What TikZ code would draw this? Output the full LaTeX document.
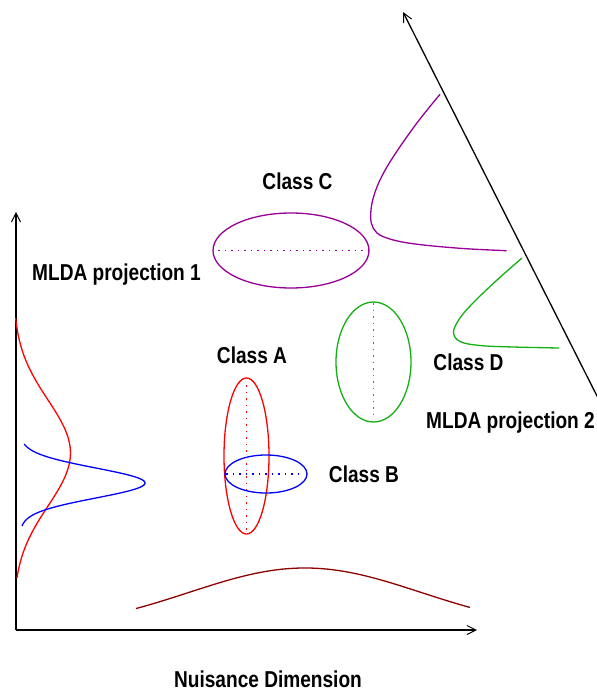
\documentclass[tikz,border=0pt]{standalone}
\usepackage{fontspec}
\usepackage{xcolor}
\usepackage{tikz}
\usetikzlibrary{arrows.meta}
\newfontfamily\lblfont{Liberation Sans}[FakeStretch=0.83]
\definecolor{classApurple}{RGB}{150,0,150}
\definecolor{classDgreen}{RGB}{20,175,20}
\definecolor{nuisbrown}{RGB}{140,0,0}

\begin{document}
\begin{tikzpicture}[x=1pt,y=-1pt,
  axis/.style={line width=1.3pt,black,-{Straight Barb[length=9pt,width=9pt,line width=1pt]}},
  curve/.style={line width=1.3pt},
  meanline/.style={line width=1.5pt,dash pattern=on 1.5pt off 5pt},
  lbl/.style={font=\lblfont\bfseries\fontsize{23}{26}\selectfont,inner sep=0pt}
]
\useasboundingbox (0,0) rectangle (596,692);

% Axes
\coordinate (origin) at (16,630);
\coordinate (ytip) at (16,212);
\coordinate (xtip) at (477,630);
\coordinate (dstart) at (598,398);
\coordinate (dtip) at (403,12);
\draw[axis] (origin) -- (ytip);
\draw[axis] (origin) -- (xtip);
\draw[axis] (dstart) -- (dtip);

% Class ellipses
\draw[curve,red] (246.5,456) ellipse[x radius=22.5pt,y radius=78pt];
\draw[meanline,red] (246.5,385) -- (246.5,533);
\draw[curve,blue] (266,474) ellipse[x radius=41pt,y radius=19pt];
\draw[meanline,blue] (226,474) -- (299,474);
\draw[curve,classApurple] (291,250.5) ellipse[x radius=78pt,y radius=37.5pt];
\draw[meanline,classApurple] (218,250.5) -- (368,250.5);
\draw[curve,classDgreen] (373.5,362) ellipse[x radius=37.5pt,y radius=60pt];
\draw[meanline,classDgreen] (373.5,303) -- (373.5,418);

% Projections on axis 1 and nuisance axis
\draw[curve,red] plot[domain=318:578,samples=90,variable=\y]
  ({16+57*(exp(-((\y-453)/53)^2/2)-0.045)},\y);
\draw[curve,blue] plot[domain=444:526,samples=90,variable=\y]
  ({20+125*exp(-((\y-483)/15)^2/2)},\y);
\draw[curve,nuisbrown] plot[domain=136:470,samples=90,variable=\x]
  (\x,{630-62*exp(-((\x-305)/116)^2/2)});

% Projections on axis 2
\draw[curve,classApurple] plot[smooth,tension=0.6] coordinates {
  (440,94.3) (416.7,123.3) (393.3,156.7) (380,180) (372.7,200) (370.7,216.7)
  (373.3,228.3) (383.3,236.7) (410,243.3) (460,248.3) (506.7,250.7)};
\draw[curve,classDgreen] plot[smooth,tension=0.6] coordinates {
  (522,258) (497,280) (473,303) (460,318) (453.5,332) (460,341.5)
  (480,345.5) (513,347) (559,348)};

% Labels
\node[lbl,anchor=base] (lblC) at (297.5,190) {Class C};
\node[lbl,anchor=base] (lblA) at (252,363) {Class A};
\node[lbl,anchor=base] (lblB) at (364,482) {Class B};
\node[lbl,anchor=base] (lblD) at (468.5,370) {Class D};
\node[lbl,anchor=base west] (proj1) at (32,280) {MLDA projection 1};
\node[lbl,anchor=base west] (proj2) at (426,428) {MLDA projection 2};
\node[lbl,anchor=base] (nuis) at (268,687) {Nuisance Dimension};

\end{tikzpicture}
\end{document}
